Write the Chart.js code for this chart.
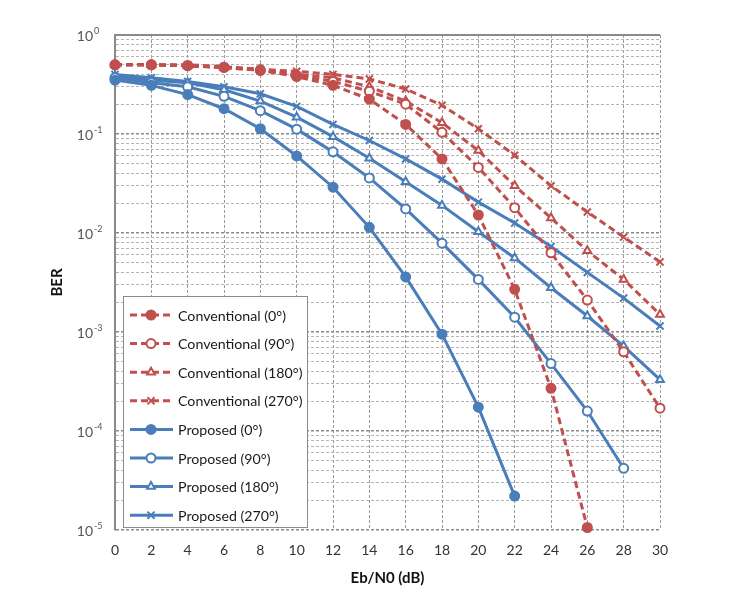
<!DOCTYPE html>
<html><head><meta charset="utf-8">
<script src="https://cdn.jsdelivr.net/npm/chart.js@4"></script>
<style>html,body{margin:0;padding:0;background:#fff}#wrap{width:750px;height:593px}</style>
</head><body><div id="wrap"><canvas id="c" width="750" height="593"></canvas></div>
<script>
const ebn0 = [0,2,4,6,8,10,12,14,16,18,20,22,24,26,28,30];
const seriesLabels = ['Conventional (0°)','Conventional (90°)','Conventional (180°)','Conventional (270°)','Proposed (0°)','Proposed (90°)','Proposed (180°)','Proposed (270°)'];
const conv0   = [0.50,0.50,0.49,0.47,0.44,0.38,0.31,0.225,0.125,0.056,0.0152,0.0027,0.00027,0.0000106];
const conv90  = [0.50,0.50,0.49,0.47,0.44,0.39,0.34,0.27,0.20,0.104,0.046,0.018,0.0063,0.0021,0.00063,0.00017];
const conv180 = [0.50,0.50,0.49,0.47,0.45,0.40,0.37,0.30,0.215,0.13,0.068,0.030,0.0142,0.0066,0.0034,0.0015];
const conv270 = [0.50,0.50,0.50,0.48,0.45,0.43,0.40,0.36,0.285,0.195,0.113,0.061,0.030,0.0163,0.0091,0.0051];
const prop0   = [0.35,0.31,0.25,0.18,0.113,0.060,0.029,0.0114,0.0036,0.00095,0.000174,0.000022];
const prop90  = [0.37,0.33,0.30,0.24,0.172,0.112,0.066,0.036,0.0175,0.0079,0.0034,0.00141,0.00048,0.000159,0.000042];
const prop180 = [0.38,0.35,0.33,0.28,0.215,0.148,0.094,0.057,0.033,0.019,0.0103,0.0056,0.0028,0.00145,0.00072,0.00033];
const prop270 = [0.40,0.37,0.34,0.30,0.255,0.19,0.125,0.086,0.056,0.035,0.0205,0.0126,0.0073,0.0040,0.0022,0.00115];
const decadeExps = [0,-1,-2,-3,-4,-5];
const xTickValues = [0,2,4,6,8,10,12,14,16,18,20,22,24,26,28,30];

const RED = '#C0504D', BLUE = '#4A7EBB';
const allSeries = [conv0,conv90,conv180,conv270,prop0,prop90,prop180,prop270];
const styles = ['circle','circle','triangle','crossRot','circle','circle','triangle','crossRot'];
const filled = [true,false,false,true,true,false,false,true];

const datasets = allSeries.map((vals,i)=>{
  const conv = i < 4;
  const col = conv ? RED : BLUE;
  return {
    label: seriesLabels[i],
    data: vals.map((v,j)=>({x: ebn0[j], y: v})),
    borderColor: col,
    borderWidth: 3,
    borderDash: conv ? [7,4] : [],
    pointStyle: styles[i],
    pointRadius: styles[i]==='crossRot' ? 5 : 4.5,
    pointBorderWidth: 2,
    pointBorderColor: col,
    pointBackgroundColor: filled[i] ? col : '#ffffff',
    fill: false,
    clip: false,
    tension: 0
  };
});

const yLabelPlugin = {
  id: 'yLabels',
  beforeDatasetsDraw(chart) {
    const ctx = chart.ctx, a = chart.chartArea;
    ctx.save();
    ctx.strokeStyle = '#8a8a8a'; ctx.lineWidth = 2;
    ctx.beginPath(); ctx.moveTo(a.left, a.top); ctx.lineTo(a.right, a.top); ctx.stroke();
    ctx.restore();
  },
  afterDraw(chart) {
    const ctx = chart.ctx, s = chart.scales.y;
    ctx.save();
    ctx.fillStyle = '#555';
    decadeExps.forEach(e=>{
      const y = s.getPixelForValue(Math.pow(10,e));
      ctx.font = '14px Lato';
      ctx.textAlign = 'right'; ctx.textBaseline = 'middle';
      ctx.fillText('10', 93, y+1);
      ctx.font = '9px Lato';
      ctx.textAlign = 'left';
      ctx.fillText(e===0 ? '0' : '-' + Math.abs(e), 94, y-4);
    });
    ctx.restore();
  }
};

const legendPlugin = {
  id: 'boxLegend',
  afterDraw(chart) {
    const ctx = chart.ctx;
    const x0 = 123, y0 = 296, w = 184, h = 231;
    ctx.save();
    ctx.fillStyle = '#fff'; ctx.fillRect(x0, y0, w, h);
    ctx.strokeStyle = '#8c8c8c'; ctx.lineWidth = 1; ctx.strokeRect(x0+0.5, y0+0.5, w, h);
    chart.data.datasets.forEach((ds,i)=>{
      const cy = y0 + 19 + i*28.6;
      ctx.strokeStyle = ds.borderColor; ctx.lineWidth = ds.borderWidth;
      ctx.setLineDash(ds.borderDash || []);
      ctx.beginPath(); ctx.moveTo(x0+7, cy); ctx.lineTo(x0+50, cy); ctx.stroke();
      ctx.setLineDash([]);
      ctx.fillStyle = ds.pointBackgroundColor; ctx.strokeStyle = ds.pointBorderColor; ctx.lineWidth = ds.pointBorderWidth;
      Chart.helpers.drawPoint(ctx, {pointStyle: ds.pointStyle, radius: ds.pointRadius, borderWidth: ds.pointBorderWidth, rotation: 0}, x0+28, cy);
      ctx.fillStyle = '#1a1a1a'; ctx.font = '14.2px Lato'; ctx.textAlign = 'left'; ctx.textBaseline = 'middle';
      ctx.fillText(ds.label, x0+55, cy+1);
    });
    ctx.restore();
  }
};

new Chart(document.getElementById('c'), {
  type: 'line',
  data: { datasets },
  options: {
    responsive: false,
    animation: false,
    layout: { padding: { left: 0, right: 90, top: 35, bottom: 0 } },
    plugins: { legend: { display: false }, tooltip: { enabled: false } },
    scales: {
      x: {
        type: 'linear', min: 0, max: 30,
        afterBuildTicks: s => { s.ticks = xTickValues.map(v=>({value:v})); },
        afterFit: s => { s.height = 63; },
        ticks: { padding: 12, color: '#333', font: { family: 'Lato', size: 14 } },
        grid: { color: '#9a9a9a', lineWidth: 1, drawTicks: false },
        border: { display: false, dash: [3,2] },
        title: { display: true, text: 'Eb/N0 (dB)', color: '#111', font: { family: 'Lato', size: 15, weight: 'bold' }, padding: { top: 0, bottom: 6 } }
      },
      y: {
        type: 'logarithmic', min: 1e-5, max: 1,
        afterBuildTicks: s => {
          const t = [];
          for (let e = -5; e <= 0; e++) {
            for (let m = 1; m <= 9; m++) {
              const v = m * Math.pow(10, e);
              if (v <= 1.0000001) t.push({ value: v });
            }
          }
          s.ticks = t;
        },
        afterFit: s => { s.width = 115; },
        ticks: { display: false },
        grid: {
          drawTicks: false,
          color: c => { const v = c.tick ? c.tick.value : 0; const l = Math.log10(v); return Math.abs(l - Math.round(l)) < 1e-6 ? '#8a8a8a' : '#b4b4b4'; },
          lineWidth: c => { const v = c.tick ? c.tick.value : 0; const l = Math.log10(v); return Math.abs(l - Math.round(l)) < 1e-6 ? 1.5 : 1; }
        },
        border: { display: true, color: '#8a8a8a', width: 2, dash: [3,2] },
        title: { display: true, text: 'BER', color: '#111', font: { family: 'Lato', size: 15, weight: 'bold' }, padding: { top: 48, bottom: 0 } }
      }
    }
  },
  plugins: [yLabelPlugin, legendPlugin]
});
</script>
</body></html>
